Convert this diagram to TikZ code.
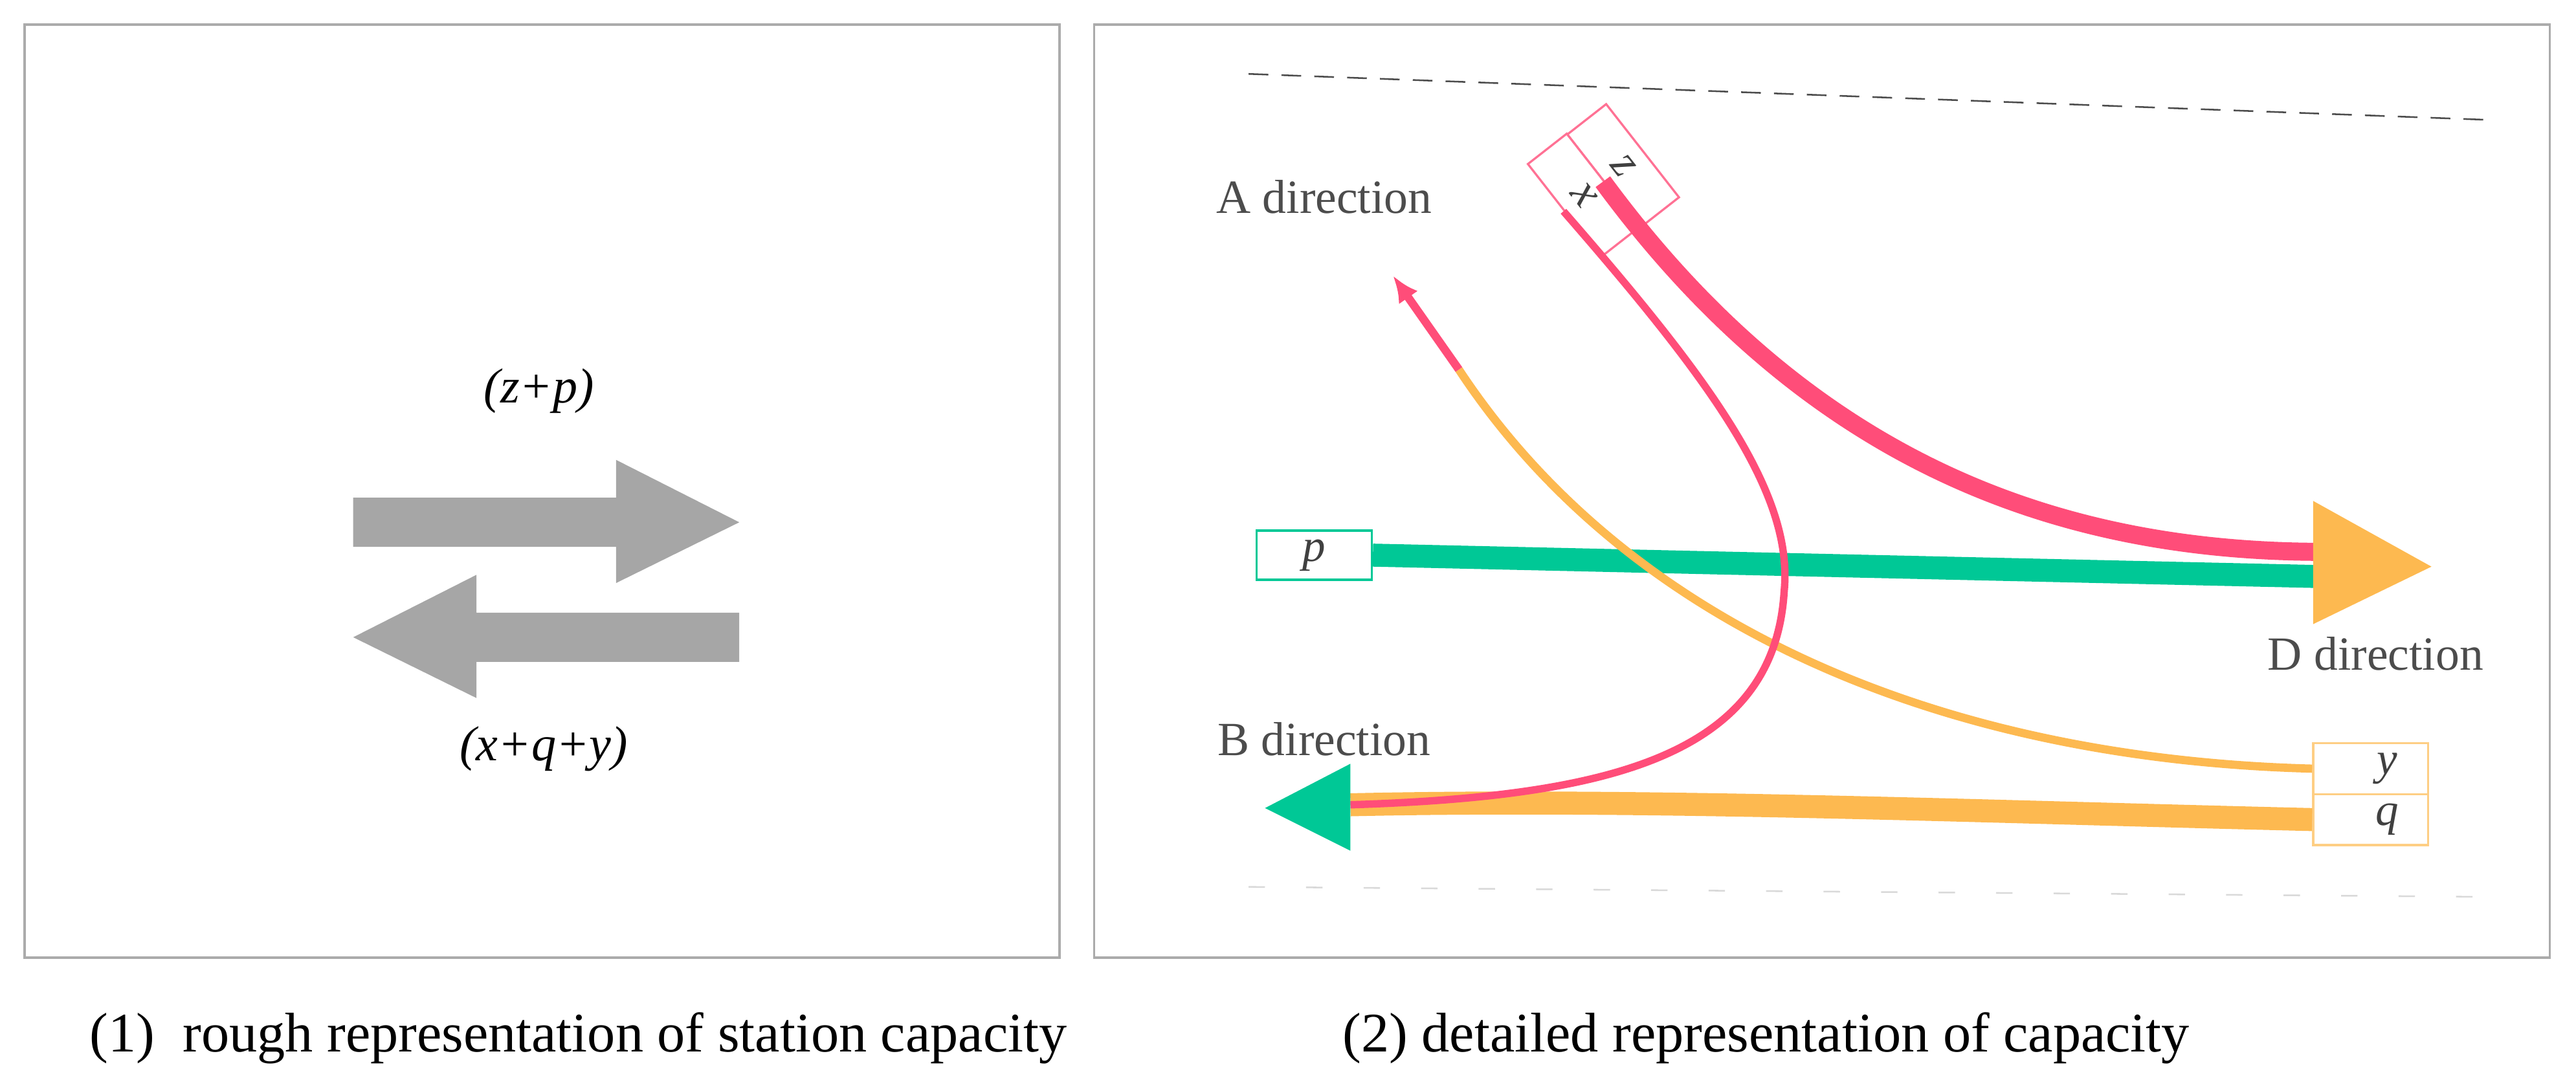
\documentclass[tikz,border=0pt]{standalone}
\usepackage{fontspec}
\setmainfont{Liberation Serif}
\usetikzlibrary{arrows.meta}
\begin{document}
\begin{tikzpicture}[x=1pt,y=-1pt,
  panel/.style={draw=black!33,line width=1.5pt},
  lab/.style={font=\fontsize{29}{29}\selectfont,text=black!70},
  captxt/.style={font=\fontsize{34}{34}\selectfont},
  gr/.style={fill=black!35},
  cell/.style={draw=#1,line width=1.3pt,fill=white,inner sep=0pt,font=\fontsize{28}{28}\selectfont\itshape,text=black!75}]
\definecolor{rd}{RGB}{255,77,121}
\definecolor{gn}{RGB}{0,200,150}
\definecolor{og}{RGB}{253,185,80}
\useasboundingbox (0,0) rectangle (1568,663);
\node[panel,minimum width=630,minimum height=568,inner sep=0] (P1) at (330,299) {};
\node[panel,minimum width=886,minimum height=568,inner sep=0] (P2) at (1109,299) {};
\node[captxt] (c1) at (352,632) {(1)\ \ rough representation of station capacity};
\node[captxt] (c2) at (1075,632) {(2) detailed representation of capacity};
% left
\fill[gr] (215,303) -- (375,303) -- (375,280) -- (450,318) -- (375,355) -- (375,333) -- (215,333) -- cycle;
\fill[gr] (450,373) -- (290,373) -- (290,350) -- (215,388) -- (290,425) -- (290,403) -- (450,403) -- cycle;
\node[font=\fontsize{30}{30}\selectfont\itshape] (zp) at (328,238) {(z+p)};
\node[font=\fontsize{30}{30}\selectfont\itshape] (xqy) at (331,456) {(x+q+y)};
% right
\draw[black!70,dash pattern=on 12pt off 8pt,line width=1pt] (760,45) -- (1515,73);
\draw[black!15,dash pattern=on 10pt off 25pt,line width=1pt] (760,540) -- (1505,546);
\node[lab] (A) at (806,120) {A direction};
\node[lab] (B) at (806,450) {B direction};
\node[lab] (D) at (1446,398) {D direction};
\node[cell=rd!80,rotate=-52,minimum width=72,minimum height=30] (zc) at (988,101) {z};
\node[cell=rd!80,rotate=-52,minimum width=72,minimum height=30] (xc) at (964,119) {x};
\node[cell=gn,minimum width=70,minimum height=30] (pc) at (800,338) {p};
\node[cell=og!70,minimum width=70,minimum height=31] (yc) at (1443,468) {\hspace*{20pt}y};
\node[cell=og!70,minimum width=70,minimum height=31] (qc) at (1443,499) {\hspace*{20pt}q};
\coordinate (Bt) at (822,490);
\coordinate (Am) at (888,225);
\coordinate (At) at (848,168);
\coordinate (Xm) at (1086,360);
% curves
\draw[rd,line width=11pt] (zc.south) .. controls (1100,280) and (1250,335) .. (1410,336);
\draw[gn,line width=14pt] (pc.east) -- (1410,351);
\draw[og,line width=5pt] (yc.west) .. controls (1180,462) and (990,380) .. (Am);
\draw[rd,line width=5pt,-{Latex[length=16pt,width=14pt]}] (Am) -- (At);
\draw[og,line width=14pt] (qc.west) .. controls (1200,494) and (1000,486) .. (Bt);
\draw[rd,line width=4.5pt] (xc.south) .. controls (1040,230) and (1092,300) .. (Xm) .. controls (1080,460) and (980,485) .. (Bt);
\fill[og] (1408,305) -- (1480,345) -- (1408,380) -- cycle;
\fill[gn] (822,465) -- (770,492) -- (822,518) -- cycle;
\end{tikzpicture}
\end{document}
